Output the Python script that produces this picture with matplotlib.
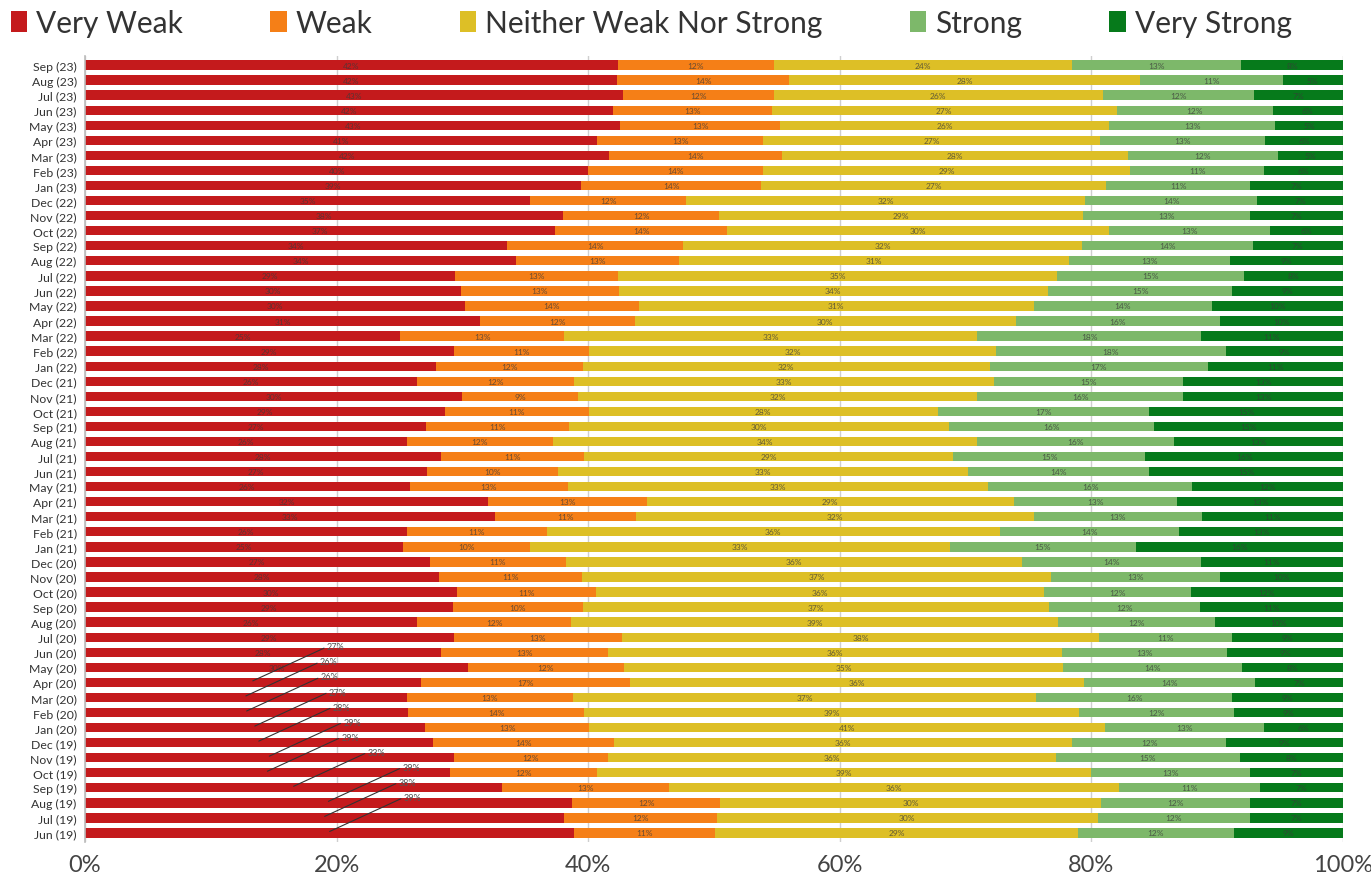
import matplotlib
matplotlib.use('Agg')
import matplotlib.pyplot as plt
from matplotlib.patches import Patch
import numpy as np

months = ['Jun (19)', 'Jul (19)', 'Aug (19)', 'Sep (19)', 'Oct (19)', 'Nov (19)', 'Dec (19)',
          'Jan (20)', 'Feb (20)', 'Mar (20)', 'Apr (20)', 'May (20)', 'Jun (20)', 'Jul (20)',
          'Aug (20)', 'Sep (20)', 'Oct (20)', 'Nov (20)', 'Dec (20)',
          'Jan (21)', 'Feb (21)', 'Mar (21)', 'Apr (21)', 'May (21)', 'Jun (21)', 'Jul (21)',
          'Aug (21)', 'Sep (21)', 'Oct (21)', 'Nov (21)', 'Dec (21)',
          'Jan (22)', 'Feb (22)', 'Mar (22)', 'Apr (22)', 'May (22)', 'Jun (22)', 'Jul (22)',
          'Aug (22)', 'Sep (22)', 'Oct (22)', 'Nov (22)', 'Dec (22)',
          'Jan (23)', 'Feb (23)', 'Mar (23)', 'Apr (23)', 'May (23)', 'Jun (23)', 'Jul (23)',
          'Aug (23)', 'Sep (23)']

very_weak = [38.9, 38.1, 38.7, 33.2, 29.0, 29.3, 27.6,
             27.0, 25.7, 25.6, 26.7, 30.4, 28.3, 29.3, 26.4, 29.3, 29.6, 28.1, 27.4,
             25.3, 25.6, 32.6, 32.1, 25.8, 27.2, 28.3, 25.6, 27.1, 28.6, 30.0, 26.4,
             27.9, 29.3, 25.1, 31.4, 30.2, 29.9, 29.4, 34.3, 33.6, 37.4, 38.0, 35.4,
             39.4, 40.0, 41.7, 40.7, 42.6, 42.0, 42.8, 42.3, 42.3]
weak = [11.2, 12.1, 11.8, 13.3, 11.7, 12.3, 14.4,
        13.1, 14.0, 13.2, 16.7, 12.4, 13.2, 13.4, 12.2, 10.3, 11.0, 11.4, 10.8,
        10.1, 11.1, 11.2, 12.6, 12.6, 10.4, 11.4, 11.6, 11.4, 11.4, 9.2, 12.5,
        11.7, 10.8, 13.0, 12.3, 13.8, 12.6, 13.0, 12.9, 14.0, 13.6, 12.4, 12.4,
        14.3, 13.9, 13.8, 13.2, 12.7, 12.6, 12.0, 13.7, 12.4]
neither = [28.8, 30.3, 30.3, 35.8, 39.3, 35.6, 36.4,
           41.0, 39.3, 36.9, 36.1, 34.9, 36.1, 37.9, 38.7, 37.1, 35.6, 37.2, 36.3,
           33.4, 36.0, 31.6, 29.2, 33.4, 32.6, 29.3, 33.7, 30.2, 27.7, 31.8, 33.4,
           32.3, 32.3, 32.9, 30.3, 31.4, 34.1, 34.9, 31.0, 31.7, 30.4, 28.9, 31.7,
           27.4, 29.2, 27.6, 26.8, 26.2, 27.4, 26.2, 27.9, 23.7]
strong = [12.4, 12.1, 11.8, 11.2, 12.6, 14.6, 12.2,
          12.6, 12.3, 15.6, 13.6, 14.2, 13.1, 10.6, 12.4, 12.0, 11.7, 13.4, 14.2,
          14.8, 14.3, 13.4, 13.0, 16.2, 14.4, 15.3, 15.7, 16.3, 16.8, 16.4, 15.1,
          17.4, 18.3, 17.8, 16.2, 14.2, 14.7, 14.8, 12.8, 13.6, 12.8, 13.3, 13.7,
          11.4, 10.6, 11.9, 13.1, 13.2, 12.4, 12.0, 11.3, 13.4]
very_strong = [8.7, 7.4, 7.4, 6.6, 7.4, 8.2, 9.3,
               6.3, 8.7, 8.8, 7.0, 8.0, 9.2, 8.8, 10.2, 11.4, 12.1, 9.8, 11.3,
               16.5, 13.0, 11.2, 13.2, 12.0, 15.4, 15.7, 13.4, 15.0, 15.4, 12.7, 12.7,
               10.7, 9.3, 11.3, 9.8, 10.4, 8.8, 7.9, 9.0, 7.2, 5.8, 7.4, 6.8,
               7.4, 6.3, 5.2, 6.2, 5.4, 5.6, 7.1, 4.8, 8.1]

categories = ['Very Weak', 'Weak', 'Neither Weak Nor Strong', 'Strong', 'Very Strong']
colors = ['#C41A1C', '#F57F17', '#DDBF26', '#7DB86A', '#067A1B']
x_ticks = [0, 20, 40, 60, 80, 100]

# rows whose "Very Weak" label is pulled out with a leader line
leader_months = months[:11]

plt.rcParams['font.family'] = ['Lato', 'DejaVu Sans']

W, H = 1371, 879
fig = plt.figure(figsize=(W / 100, H / 100), dpi=100)
ax = fig.add_axes([85 / W, 36 / H, 1258 / W, 786 / H])

series = np.array([very_weak, weak, neither, strong, very_strong])
shares = series / series.sum(axis=0) * 100
y = np.arange(len(months))
left = np.zeros(len(months))

for i, (cat, col) in enumerate(zip(categories, colors)):
    ax.barh(y, shares[i], left=left, height=0.62, color=col, label=cat, zorder=2)
    for j, m in enumerate(months):
        cx = left[j] + shares[i, j] / 2
        txt = f'{series[i, j]:.0f}%'
        if i == 0 and m in leader_months:
            ax.annotate(txt, xy=(cx, y[j] + 0.1), xytext=(74, 34),
                        textcoords='offset pixels', ha='left', va='center',
                        fontsize=6.5, color='#555555', zorder=5,
                        arrowprops=dict(arrowstyle='-', color='#333333', lw=0.8,
                                        shrinkA=0, shrinkB=0, relpos=(0, 0.5)))
        else:
            ax.text(cx, y[j], txt, ha='center', va='center', fontsize=6,
                    color='#3a3a3a', alpha=0.75, zorder=4)
    left += shares[i]

ax.set_xlim(0, 100)
ax.set_ylim(-0.6, len(months) - 1 + 0.6)
ax.set_yticks(y)
ax.set_yticklabels(months, fontsize=8.8, color='#333333')
ax.set_xticks(x_ticks)
ax.set_xticklabels([f'{t}%' for t in x_ticks], fontsize=17, color='#444444')
ax.tick_params(axis='y', length=0, pad=6)
ax.tick_params(axis='x', length=0, pad=9)
ax.grid(axis='x', color='#cfcfcf', lw=1, zorder=0)
for s in ['top', 'right', 'bottom']:
    ax.spines[s].set_visible(False)
ax.spines['left'].set_color('#bbbbbb')
ax.spines['left'].set_linewidth(1.2)

handles = [Patch(facecolor=c) for c in colors]
fig.legend(handles, categories, loc='upper left', bbox_to_anchor=(11 / W, 1 - 10 / H),
           ncol=5, frameon=False, fontsize=21.5, handlelength=0.55, handleheight=0.7,
           handletextpad=0.3, columnspacing=2.92, labelcolor='#333333',
           borderpad=0, borderaxespad=0)

fig.savefig('out.png', dpi=100)
